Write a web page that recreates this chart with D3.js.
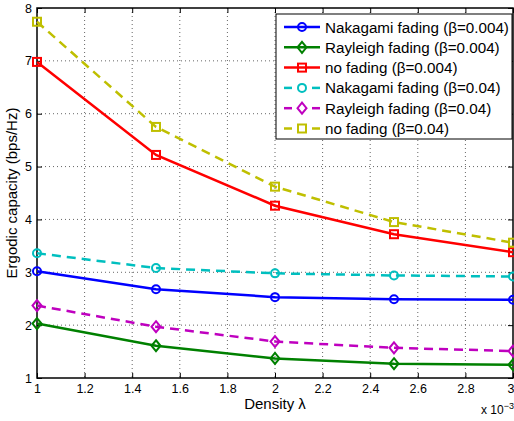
<!DOCTYPE html>
<html>
<head>
<meta charset="utf-8">
<script src="https://cdn.jsdelivr.net/npm/d3@7.9.0/dist/d3.min.js"></script>
<style>
  body { margin: 0; background: #fff; }
  svg { display: block; font-family: "Liberation Sans", Arial, Helvetica, sans-serif; }
</style>
</head>
<body>
<svg id="chart" width="514" height="421"></svg>
<script>
// density values (x 10^-3)
const density = [1, 1.5, 2, 2.5, 3];

const nakagami004 = [3.02, 2.68, 2.53, 2.49, 2.48];
const rayleigh004 = [2.03, 1.61, 1.37, 1.27, 1.25];
const nofading004 = [6.98, 5.22, 4.26, 3.72, 3.38];
const nakagami04 = [3.36, 3.08, 2.98, 2.94, 2.92];
const rayleigh04 = [2.37, 1.97, 1.69, 1.57, 1.51];
const nofading04 = [7.74, 5.75, 4.62, 3.95, 3.56];

const xTicks = [1, 1.2, 1.4, 1.6, 1.8, 2, 2.2, 2.4, 2.6, 2.8, 3];
const yTicks = [1, 2, 3, 4, 5, 6, 7, 8];

const series = [
  { name: "Nakagami fading (\u03b2=0.004)", values: nakagami004, color: "#0000ff", marker: "circle", dashed: false },
  { name: "Rayleigh fading (\u03b2=0.004)", values: rayleigh004, color: "#008000", marker: "diamond", dashed: false },
  { name: "no fading (\u03b2=0.004)", values: nofading004, color: "#ff0000", marker: "square", dashed: false },
  { name: "Nakagami fading (\u03b2=0.04)", values: nakagami04, color: "#00bfbf", marker: "circle", dashed: true },
  { name: "Rayleigh fading (\u03b2=0.04)", values: rayleigh04, color: "#bf00bf", marker: "diamond", dashed: true },
  { name: "no fading (\u03b2=0.04)", values: nofading04, color: "#bfbf00", marker: "square", dashed: true },
];

const svg = d3.select("#chart");
const area = { left: 37, right: 513, top: 8, bottom: 378 };

const x = d3.scaleLinear().domain([1, 3]).range([area.left, area.right]);
const y = d3.scaleLinear().domain([1, 8]).range([area.bottom, area.top]);

// grid
const grid = svg.append("g").attr("class", "grid");
grid.selectAll("line.gx")
  .data(xTicks.slice(1, -1))
  .join("line")
  .attr("class", "gx")
  .attr("x1", (d) => x(d)).attr("x2", (d) => x(d))
  .attr("y1", area.top).attr("y2", area.bottom)
  .attr("stroke", "#666").attr("stroke-width", 1)
  .attr("stroke-dasharray", "1,3");
grid.selectAll("line.gy")
  .data(yTicks.slice(1, -1))
  .join("line")
  .attr("class", "gy")
  .attr("x1", area.left).attr("x2", area.right)
  .attr("y1", (d) => y(d)).attr("y2", (d) => y(d))
  .attr("stroke", "#666").attr("stroke-width", 1)
  .attr("stroke-dasharray", "1,3");

// axes with inward ticks
const fmt = (d) => String(d);
const xAxisG = svg.append("g")
  .attr("transform", `translate(0,${area.bottom})`)
  .call(d3.axisBottom(x).tickValues(xTicks).tickSizeInner(-5).tickSizeOuter(0).tickPadding(6).tickFormat(fmt))
  .call((g) => g.select(".domain").remove());
// last label sits against the page edge
xAxisG.selectAll(".tick text").filter((d) => d === 3)
  .attr("text-anchor", "end").attr("x", 514 - area.right);
svg.append("g")
  .attr("transform", `translate(0,${area.top})`)
  .call(d3.axisTop(x).tickValues(xTicks).tickSizeInner(-5).tickSizeOuter(0).tickFormat(""))
  .call((g) => g.select(".domain").remove());
svg.append("g")
  .attr("transform", `translate(${area.left},0)`)
  .call(d3.axisLeft(y).tickValues(yTicks).tickSizeInner(-5).tickSizeOuter(0).tickPadding(5).tickFormat(fmt))
  .call((g) => g.select(".domain").remove());
svg.append("g")
  .attr("transform", `translate(${area.right},0)`)
  .call(d3.axisRight(y).tickValues(yTicks).tickSizeInner(-5).tickSizeOuter(0).tickFormat(""))
  .call((g) => g.select(".domain").remove());

svg.selectAll(".tick text").attr("font-size", 12.5).attr("fill", "#000")
  .attr("font-family", "'Liberation Sans', Arial, sans-serif");
svg.selectAll(".tick line").attr("stroke", "#000");

svg.append("rect")
  .attr("x", area.left).attr("y", area.top)
  .attr("width", area.right - area.left).attr("height", area.bottom - area.top)
  .attr("fill", "none").attr("stroke", "#000").attr("stroke-width", 1.5);

// markers
function drawMarker(g, type, cx, cy, color) {
  if (type === "circle") {
    g.append("circle").attr("cx", cx).attr("cy", cy).attr("r", 4)
      .attr("fill", "none").attr("stroke", color).attr("stroke-width", 2);
  } else if (type === "square") {
    g.append("rect").attr("x", cx - 4).attr("y", cy - 4).attr("width", 8).attr("height", 8)
      .attr("fill", "none").attr("stroke", color).attr("stroke-width", 2);
  } else {
    g.append("path")
      .attr("d", `M${cx},${cy - 5.5}L${cx + 4.5},${cy}L${cx},${cy + 5.5}L${cx - 4.5},${cy}Z`)
      .attr("fill", "none").attr("stroke", color).attr("stroke-width", 2);
  }
}

const line = d3.line().x((d) => x(d[0])).y((d) => y(d[1]));
const plot = svg.append("g").attr("class", "series");
series.forEach((s) => {
  const pts = density.map((d, i) => [d, s.values[i]]);
  plot.append("path")
    .datum(pts)
    .attr("d", line)
    .attr("fill", "none")
    .attr("stroke", s.color)
    .attr("stroke-width", 2.5)
    .attr("stroke-dasharray", s.dashed ? "9,6" : null);
  const mg = plot.append("g");
  pts.forEach((p) => drawMarker(mg, s.marker, x(p[0]), y(p[1]), s.color));
});

// axis labels
svg.append("text")
  .attr("x", 275).attr("y", 409)
  .attr("text-anchor", "middle").attr("font-size", 15)
  .text("Density \u03bb");
svg.append("text")
  .attr("transform", `translate(17,${(area.top + area.bottom) / 2}) rotate(-90)`)
  .attr("text-anchor", "middle").attr("font-size", 15)
  .text("Ergodic capacity (bps/Hz)");
const ex = svg.append("text").attr("x", 481).attr("y", 414).attr("font-size", 12);
ex.append("tspan").text("x 10");
ex.append("tspan").attr("dy", -5).attr("font-size", 9).text("\u22123");

// legend
const lx = 276, ly = 14, lw = 236, lh = 125;
const legend = svg.append("g").attr("class", "legend");
legend.append("rect")
  .attr("x", lx).attr("y", ly).attr("width", lw).attr("height", lh)
  .attr("fill", "#fff").attr("stroke", "#000").attr("stroke-width", 1);
series.forEach((s, i) => {
  const cy = 27 + i * 20.3;
  const row = legend.append("g");
  if (s.dashed) {
    row.append("line").attr("x1", 284).attr("x2", 292).attr("y1", cy).attr("y2", cy)
      .attr("stroke", s.color).attr("stroke-width", 2.5);
    row.append("line").attr("x1", 312).attr("x2", 320).attr("y1", cy).attr("y2", cy)
      .attr("stroke", s.color).attr("stroke-width", 2.5);
  } else {
    row.append("line").attr("x1", 284).attr("x2", 320).attr("y1", cy).attr("y2", cy)
      .attr("stroke", s.color).attr("stroke-width", 2.5);
  }
  drawMarker(row, s.marker, 302, cy, s.color);
  row.append("text").attr("x", 325).attr("y", cy + 5.5)
    .attr("font-size", 15.2).text(s.name);
});
</script>
</body>
</html>
